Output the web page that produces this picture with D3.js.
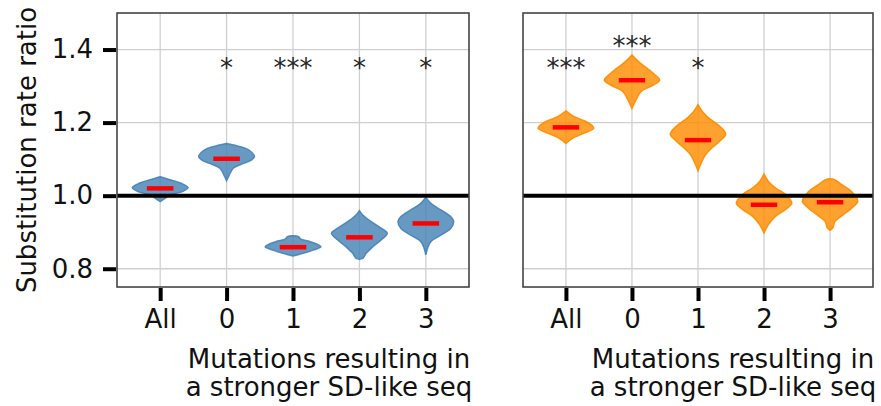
<!DOCTYPE html>
<html>
<head>
<meta charset="utf-8">
<script src="https://d3js.org/d3.v7.min.js"></script>
<style>
  body { margin: 0; background: #fff; }
  text { font-family: "DejaVu Sans", sans-serif; }
</style>
</head>
<body>
<div id="chart"></div>
<script>
// categories and tick labels
const categories = ["All", "0", "1", "2", "3"];
const yTicks = [0.8, 1.0, 1.2, 1.4];

// median of each violin
const leftMedians = [1.020, 1.101, 0.859, 0.886, 0.924];
const rightMedians = [1.187, 1.316, 1.152, 0.975, 0.982];

// violin outlines: [value, relative half width]
const leftViolins = [
  [[1.052, 0], [1.043, 0.39], [1.034, 0.75], [1.022, 1.0], [1.011, 0.8], [1.002, 0.35], [0.994, 0.2], [0.984, 0]],
  [[1.143, 0], [1.134, 0.5], [1.125, 0.8], [1.107, 1.0], [1.098, 0.9], [1.089, 0.63], [1.075, 0.24], [1.057, 0.1], [1.041, 0]],
  [[0.890, 0], [0.888, 0.2], [0.881, 0.28], [0.874, 0.62], [0.860, 1.0], [0.851, 0.72], [0.842, 0.36], [0.835, 0]],
  [[0.959, 0], [0.947, 0.12], [0.929, 0.42], [0.911, 0.78], [0.897, 1.0], [0.879, 0.78], [0.860, 0.48], [0.842, 0.24], [0.828, 0.12], [0.826, 0]],
  [[0.996, 0], [0.979, 0.18], [0.961, 0.54], [0.942, 0.9], [0.929, 1.0], [0.911, 0.9], [0.892, 0.54], [0.874, 0.18], [0.860, 0.08], [0.838, 0]]
];
const rightViolins = [
  [[1.232, 0], [1.216, 0.3], [1.203, 0.72], [1.189, 0.98], [1.184, 1.0], [1.171, 0.66], [1.157, 0.24], [1.143, 0]],
  [[1.385, 0], [1.367, 0.24], [1.349, 0.54], [1.330, 0.84], [1.317, 1.0], [1.303, 0.78], [1.285, 0.33], [1.267, 0.18], [1.239, 0]],
  [[1.249, 0], [1.231, 0.15], [1.213, 0.38], [1.194, 0.72], [1.176, 0.96], [1.167, 1.0], [1.149, 0.78], [1.131, 0.51], [1.112, 0.27], [1.090, 0.12], [1.068, 0]],
  [[1.059, 0], [1.039, 0.16], [1.021, 0.42], [1.003, 0.78], [0.980, 1.0], [0.962, 0.78], [0.944, 0.42], [0.921, 0.16], [0.898, 0]],
  [[1.046, 0], [1.044, 0.16], [1.030, 0.42], [1.012, 0.76], [0.985, 1.0], [0.966, 0.78], [0.948, 0.48], [0.930, 0.18], [0.912, 0.1], [0.905, 0]]
];

// significance stars: [category, label, value at star centre]
const leftStars = [["0", "*", 1.367], ["1", "***", 1.367], ["2", "*", 1.367], ["3", "*", 1.367]];
const rightStars = [["All", "***", 1.367], ["0", "***", 1.428], ["1", "*", 1.367]];

const width = 881, height = 406;
const yTop = 13, yBottom = 287;
const fs = 26;

const svg = d3.select("#chart").append("svg")
    .attr("width", width)
    .attr("height", height);

const y = d3.scaleLinear().domain([0.75, 1.5]).range([yBottom, yTop]);

function panel(x0, x1, violins, medians, stars, color, showY) {
    const x = d3.scalePoint().domain(categories).range([x0, x1]).padding(0.65);
    const step = x.step();
    const g = svg.append("g");

    // grid
    g.selectAll(".vgrid").data(categories).join("line")
        .attr("x1", d => x(d)).attr("x2", d => x(d))
        .attr("y1", yTop).attr("y2", yBottom)
        .attr("stroke", "#cfcfcf").attr("stroke-width", 1.3);
    g.selectAll(".hgrid").data(yTicks).join("line")
        .attr("x1", x0).attr("x2", x1)
        .attr("y1", d => y(d)).attr("y2", d => y(d))
        .attr("stroke", "#cfcfcf").attr("stroke-width", 1.3);

    // violins
    const area = d3.area()
        .y(d => y(d[0]))
        .curve(d3.curveCatmullRom.alpha(0.5));
    violins.forEach((pts, i) => {
        const cx = x(categories[i]);
        g.append("path")
            .datum(pts)
            .attr("d", area.x0(d => cx - d[1] * 0.42 * step).x1(d => cx + d[1] * 0.42 * step))
            .attr("fill", color)
            .attr("fill-opacity", 0.82)
            .attr("stroke", color)
            .attr("stroke-opacity", 0.9)
            .attr("stroke-width", 1.5);
    });

    // reference line at 1
    g.append("line")
        .attr("x1", x0).attr("x2", x1)
        .attr("y1", y(1)).attr("y2", y(1))
        .attr("stroke", "#000").attr("stroke-width", 4);

    // medians
    g.selectAll(".med").data(medians).join("line")
        .attr("x1", (d, i) => x(categories[i]) - 0.2 * step)
        .attr("x2", (d, i) => x(categories[i]) + 0.2 * step)
        .attr("y1", d => y(d)).attr("y2", d => y(d))
        .attr("stroke", "#ff0000").attr("stroke-width", 4.5);

    // stars
    g.selectAll(".star").data(stars).join("text")
        .attr("x", d => x(d[0]))
        .attr("y", d => y(d[2]) + 0.59 * fs)
        .attr("text-anchor", "middle")
        .attr("font-size", fs)
        .attr("fill", "#262626")
        .text(d => d[1]);

    // frame
    g.append("rect")
        .attr("x", x0).attr("y", yTop)
        .attr("width", x1 - x0).attr("height", yBottom - yTop)
        .attr("fill", "none").attr("stroke", "#444").attr("stroke-width", 1.6);

    // x axis
    const xa = g.append("g")
        .attr("transform", `translate(0,${yBottom + 1})`)
        .call(d3.axisBottom(x).tickSize(13).tickPadding(9));
    xa.select(".domain").remove();
    xa.selectAll(".tick line").attr("stroke", "#000").attr("stroke-width", 4);
    xa.selectAll(".tick text").attr("font-size", fs).attr("fill", "#111")
        .attr("font-family", "DejaVu Sans");

    if (showY) {
        const ya = g.append("g")
            .attr("transform", `translate(${x0 - 1},0)`)
            .call(d3.axisLeft(y).tickValues(yTicks).tickFormat(d3.format(".1f")).tickSize(13).tickPadding(10));
        ya.select(".domain").remove();
        ya.selectAll(".tick line").attr("stroke", "#000").attr("stroke-width", 4);
        ya.selectAll(".tick text").attr("font-size", fs).attr("fill", "#111")
            .attr("font-family", "DejaVu Sans");
    }

    // x label
    const lab = g.append("text")
        .attr("x", x1 - 140)
        .attr("y", 368)
        .attr("text-anchor", "middle")
        .attr("font-size", fs)
        .attr("fill", "#111");
    lab.append("tspan").attr("x", x1 - 140).text("Mutations resulting in");
    lab.append("tspan").attr("x", x1 - 140).attr("dy", 28).text("a stronger SD-like seq");
}

panel(117, 469, leftViolins, leftMedians, leftStars, "#4682b4", true);
panel(523, 873, rightViolins, rightMedians, rightStars, "#ff8c00", false);

// y label
svg.append("text")
    .attr("transform", `translate(36,${(yTop + yBottom) / 2}) rotate(-90)`)
    .attr("text-anchor", "middle")
    .attr("font-size", fs)
    .attr("fill", "#111")
    .text("Substitution rate ratio");
</script>
</body>
</html>
